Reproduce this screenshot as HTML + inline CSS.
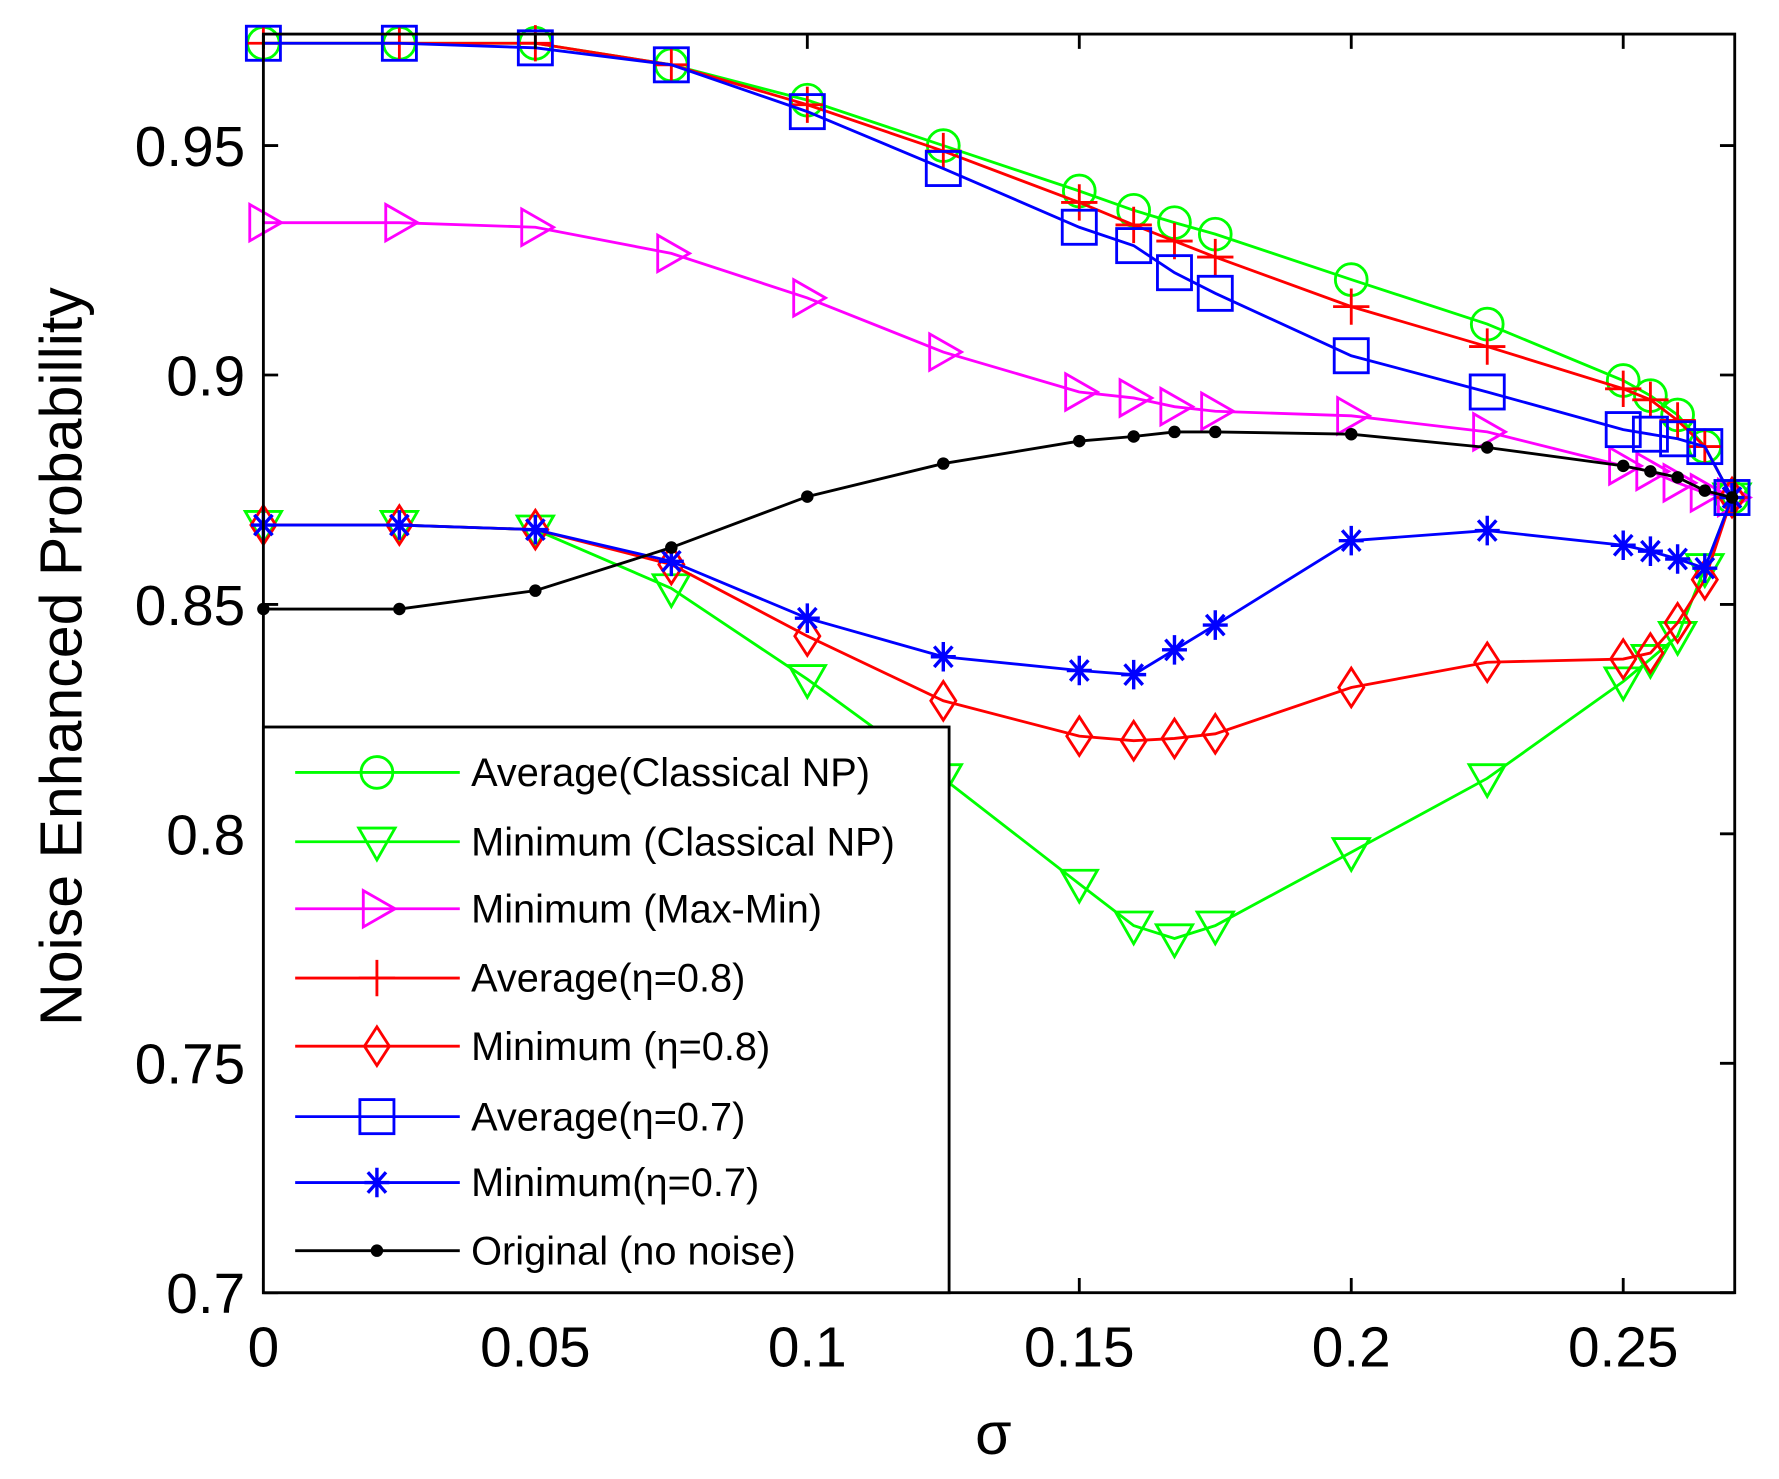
<!DOCTYPE html>
<html><head><meta charset="utf-8"><style>
html,body{margin:0;padding:0;background:#fff;}
svg{display:block;}
text{font-family:"Liberation Sans",sans-serif;}
</style></head><body>
<svg id="chart" width="1779" height="1479" viewBox="0 0 1567 1302" preserveAspectRatio="none" xmlns="http://www.w3.org/2000/svg">
<g id="plot"></g>
<g id="axes"></g>
<g id="legend"></g>
</svg>
<script>
const sigmas = [0,0.025,0.05,0.075,0.1,0.125,0.15,0.16,0.1675,0.175,0.2,0.225,0.25,0.255,0.26,0.265,0.27];
const avgClassical = [0.9723,0.9723,0.9723,0.9676,0.9599,0.95,0.9401,0.9359,0.9332,0.9307,0.9208,0.9111,0.8988,0.8955,0.8913,0.8844,0.8733];
const minClassical = [0.8673,0.8673,0.8663,0.8535,0.8337,0.8121,0.7891,0.7800,0.7772,0.7800,0.7960,0.8121,0.8332,0.8381,0.8431,0.8579,0.8733];
const minMaxMin = [0.9332,0.9332,0.9322,0.9265,0.9168,0.9050,0.8963,0.8950,0.8931,0.8921,0.8911,0.8876,0.8802,0.8790,0.8765,0.8743,0.8733];
const avgEta08 = [0.9723,0.9723,0.9723,0.9676,0.9589,0.9488,0.9376,0.9327,0.9292,0.9257,0.9149,0.9062,0.8970,0.8946,0.8901,0.8844,0.8733];
const minEta08 = [0.8673,0.8673,0.8663,0.8587,0.8431,0.8290,0.8213,0.8203,0.8208,0.8218,0.8319,0.8374,0.8381,0.8394,0.8460,0.8554,0.8733];
const avgEta07 = [0.9723,0.9723,0.9713,0.9676,0.9574,0.9450,0.9322,0.9282,0.9223,0.9178,0.9042,0.8963,0.8881,0.8871,0.8861,0.8844,0.8733];
const minEta07 = [0.8673,0.8673,0.8663,0.8594,0.8470,0.8386,0.8356,0.8347,0.8401,0.8455,0.8639,0.8661,0.8629,0.8616,0.8599,0.8579,0.8733];
const original = [0.8490,0.8490,0.8530,0.8624,0.8735,0.8807,0.8856,0.8866,0.8876,0.8876,0.8871,0.8842,0.8802,0.8790,0.8777,0.8748,0.8733];
const xTicks = [0,0.05,0.1,0.15,0.2,0.25];
const xTickLabels = ["0","0.05","0.1","0.15","0.2","0.25"];
const yTicks = [0.7,0.75,0.8,0.85,0.9,0.95];
const yTickLabels = ["0.7","0.75","0.8","0.85","0.9","0.95"];
const legendLabels = ["Average(Classical NP)","Minimum (Classical NP)","Minimum (Max-Min)","Average(\u03b7=0.8)","Minimum (\u03b7=0.8)","Average(\u03b7=0.7)","Minimum(\u03b7=0.7)","Original (no noise)"];

const L=232,R=1528,T=30,B=1138,XMAX=0.2705,YMIN=0.7,YMAX=0.9743;
const xs=v=>L+(v/XMAX)*(R-L);
const ys=v=>B-(v-YMIN)/(YMAX-YMIN)*(B-T);
const NS="http://www.w3.org/2000/svg";
function mk(tag,attrs,parent){const e=document.createElementNS(NS,tag);for(const k in attrs)e.setAttribute(k,attrs[k]);parent.appendChild(e);return e;}

function marker(g,type,x,y,c){
  let e;
  if(type==="circle"){e=mk("circle",{cx:x,cy:y,r:14,fill:"none",stroke:c,"stroke-width":2.5},g);}
  else if(type==="tri"){e=mk("polygon",{points:`${x-16},${y-12} ${x+16},${y-12} ${x},${y+16}`,fill:"none",stroke:c,"stroke-width":2.5},g);}
  else if(type==="tri-right"){e=mk("polygon",{points:`${x-12},${y-16} ${x-12},${y+16} ${x+16},${y}`,fill:"none",stroke:c,"stroke-width":2.5},g);}
  else if(type==="plus"){e=mk("path",{d:`M${x-16},${y}H${x+16}M${x},${y-16}V${y+16}`,stroke:c,"stroke-width":2.5},g);}
  else if(type==="diamond"){e=mk("polygon",{points:`${x},${y-17} ${x+11},${y} ${x},${y+17} ${x-11},${y}`,fill:"none",stroke:c,"stroke-width":2.5},g);}
  else if(type==="square"){e=mk("rect",{x:x-15,y:y-15,width:30,height:30,fill:"none",stroke:c,"stroke-width":2.5},g);}
  else if(type==="star"){e=mk("path",{d:`M${x-11},${y}H${x+11}M${x},${y-13}V${y+13}M${x-8},${y-9}L${x+8},${y+9}M${x-8},${y+9}L${x+8},${y-9}`,stroke:c,"stroke-width":3},g);}
  else {e=mk("circle",{cx:x,cy:y,r:5,fill:c,stroke:c},g);}
  return e;
}

const series=[
 {name:"average-classical-np",vals:avgClassical,c:"#00ff00",m:"circle"},
 {name:"minimum-classical-np",vals:minClassical,c:"#00ff00",m:"tri"},
 {name:"minimum-max-min",vals:minMaxMin,c:"#ff00ff",m:"tri-right"},
 {name:"average-eta-0-8",vals:avgEta08,c:"#ff0000",m:"plus"},
 {name:"minimum-eta-0-8",vals:minEta08,c:"#ff0000",m:"diamond"},
 {name:"average-eta-0-7",vals:avgEta07,c:"#0000ff",m:"square"},
 {name:"minimum-eta-0-7",vals:minEta07,c:"#0000ff",m:"star"},
 {name:"original-no-noise",vals:original,c:"#000000",m:"dot"}
];
const plot=document.getElementById("plot");
series.forEach(s=>{
  const g=mk("g",{},plot);
  
  
  const pts=s.vals.map((v,i)=>xs(sigmas[i])+","+ys(v)).join(" ");
  const pl=mk("polyline",{points:pts,fill:"none",stroke:s.c,"stroke-width":2.5},g);
  
  
  s.vals.forEach((v,i)=>{
    const e=marker(g,s.m,xs(sigmas[i]),ys(v),s.c);
    
    
  });
});

const axes=document.getElementById("axes");
const frame=mk("rect",{x:L,y:T,width:R-L,height:B-T,fill:"none",stroke:"#000","stroke-width":2.5},axes);


xTicks.forEach((v,i)=>{
  const x=xs(v);
  mk("path",{d:`M${x},${B}V${B-13}M${x},${T}V${T+13}`,stroke:"#000","stroke-width":2.5},axes);
  const t=mk("text",{x:x,y:B+65,"font-size":50,"text-anchor":"middle",fill:"#000"},axes);
  t.textContent=xTickLabels[i];
  
  
});
yTicks.forEach((v,i)=>{
  const y=ys(v);
  mk("path",{d:`M${L},${y}H${L+13}M${R},${y}H${R-13}`,stroke:"#000","stroke-width":2.5},axes);
  const t=mk("text",{x:L-16,y:y+18,"font-size":50,"text-anchor":"end",fill:"#000"},axes);
  t.textContent=yTickLabels[i];
  
  
});
const xt=mk("text",{x:875,y:1280,"font-size":52,"text-anchor":"middle",fill:"#000"},axes);
xt.textContent="\u03c3";


const yt=mk("text",{x:0,y:0,"font-size":52,"text-anchor":"middle",fill:"#000",transform:"translate(72,578) rotate(-90)"},axes);
yt.textContent="Noise Enhanced Probabillity";



const leg=document.getElementById("legend");
const lb=mk("rect",{x:L,y:640,width:604,height:B-640,fill:"#fff",stroke:"#000","stroke-width":2.5},leg);


const legY=[680,741,800,861,921,983,1041,1101];
series.forEach((s,i)=>{
  const g=mk("g",{},leg);
  
  
  const y=legY[i];
  mk("line",{x1:260,y1:y,x2:405,y2:y,stroke:s.c,"stroke-width":2.5},g);
  marker(g,s.m,332,y,s.c);
  const t=mk("text",{x:415,y:y+12,"font-size":35,fill:"#000"},g);
  t.textContent=legendLabels[i];
});
</script>
</body></html>
